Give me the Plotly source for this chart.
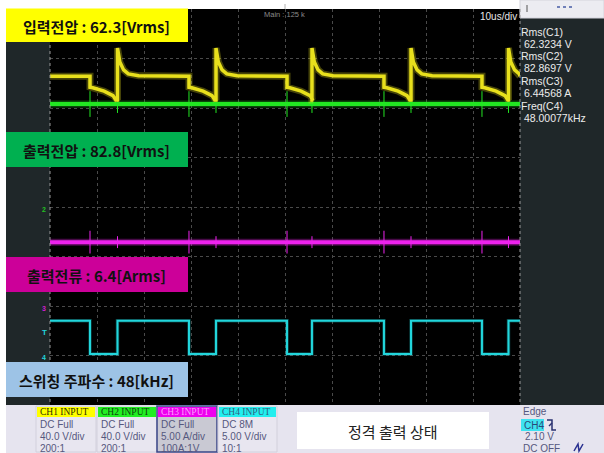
import plotly.graph_objects as go

W, H = 604, 453

# ---- acquisition data (time in us, 10 us/div; amplitude in screen divisions) ----
fall_us = [8.51, 29.57, 50.43, 71.06, 91.91]      # CH4 gate falling edges
rise_us = [14.36, 35.32, 55.74, 76.81, 97.55]     # CH4 gate rising edges

ch1_high = 2.64
ch1_sag_dt = [0.0, 0.6, 3.0, 4.9, 5.5]            # CH1 shape after each falling edge
ch1_sag_lv = [2.42, 2.41, 2.34, 2.25, 2.16]
ch1_ring_dt = [0.0, 0.5, 1.3, 2.3, 4.5]           # CH1 ringing after each rising edge
ch1_ring_lv = [3.21, 2.93, 2.77, 2.69, 2.65]

ch2_level = 2.08
ch2_spike_fall = 0.26
ch2_spike_rise = 0.18
ch3_level = -0.71
ch3_spike_fall = 0.23
ch3_spike_rise = 0.12
ch4_high = -2.30
ch4_low = -2.97

T_END = 100.0

label_texts = ["입력전압 : 62.3[Vrms]", "출력전압 : 82.8[Vrms]",
               "출력전류 : 6.4[Arms]", "스위칭 주파수 : 48[kHz]"]
meas_names = ["Rms(C1)", "Rms(C2)", "Rms(C3)", "Freq(C4)"]
meas_values = [" 62.3234 V", " 82.8697 V", " 6.44568 A", " 48.00077kHz"]
ch_headers = ["CH1 INPUT", "CH2 INPUT", "CH3 INPUT", "CH4 INPUT"]
ch_coupling = ["DC Full", "DC Full", "DC Full", "DC 8M"]
ch_scale = ["40.0 V/div", "40.0 V/div", "5.00 A/div", "5.00 V/div"]
ch_probe = ["200:1", "200:1", "100A:1V", "10:1"]
status_text = "정격 출력 상태"


def build_ch1():
    x, y = [0.0], [ch1_high]
    for f, r in zip(fall_us, rise_us):
        x += [f]; y += [ch1_high]
        for dt, lv in zip(ch1_sag_dt, ch1_sag_lv):
            x.append(f + dt); y.append(lv)
        x.append(r); y.append(ch1_sag_lv[-1])
        for dt, lv in zip(ch1_ring_dt, ch1_ring_lv):
            if r + dt <= T_END:
                x.append(r + dt); y.append(lv)
    x.append(T_END); y.append(ch1_high)
    return x, y


def build_spikes(level, s_fall, s_rise):
    events = sorted([(t, s_fall) for t in fall_us] + [(t, s_rise) for t in rise_us])
    x, y = [], []
    for t, s in events:
        x += [t, t, None]
        y += [level + s, level - s, None]
    return x, y


def build_ch4():
    x, y = [0.0], [ch4_high]
    for f, r in zip(fall_us, rise_us):
        x += [f, f, r, r]
        y += [ch4_high, ch4_low, ch4_low, ch4_high]
    x.append(T_END); y.append(ch4_high)
    return x, y


fig = go.Figure()


def add_wave(xy, color, width, glow, glow_op=0.3):
    x, y = xy
    fig.add_trace(go.Scatter(x=x, y=y, mode="lines", hoverinfo="skip",
                             line=dict(color=color, width=glow), opacity=glow_op))
    fig.add_trace(go.Scatter(x=x, y=y, mode="lines", hoverinfo="skip",
                             line=dict(color=color, width=width)))


def add_thin(xy, color):
    x, y = xy
    fig.add_trace(go.Scatter(x=x, y=y, mode="lines", hoverinfo="skip",
                             connectgaps=False, line=dict(color=color, width=1)))


add_wave(([0.0, T_END], [ch2_level, ch2_level]), "#22e622", 4, 7)
add_thin(build_spikes(ch2_level, ch2_spike_fall, ch2_spike_rise), "#22e622")
add_wave(build_ch1(), "#e8e01c", 3.5, 7, 0.3)
add_wave(([0.0, T_END], [ch3_level, ch3_level]), "#ee22ee", 4, 7)
add_thin(build_spikes(ch3_level, ch3_spike_fall, ch3_spike_rise), "#ee22ee")
add_wave(build_ch4(), "#22d6dc", 2, 3.5)


def px(v):
    return v / W


def py(v):
    return 1 - v / H


shapes = []
annotations = []


def rect(x0, y0, x1, y1, fill, line_color=None, lw=0, layer="above"):
    shapes.append(dict(type="rect", xref="paper", yref="paper",
                       x0=px(x0), x1=px(x1), y0=py(y1), y1=py(y0),
                       fillcolor=fill, layer=layer,
                       line=dict(color=line_color or fill, width=lw)))


def seg(x0, y0, x1, y1, color, lw=1, dash="solid"):
    shapes.append(dict(type="line", xref="paper", yref="paper",
                       x0=px(x0), x1=px(x1), y0=py(y0), y1=py(y1),
                       line=dict(color=color, width=lw, dash=dash), layer="above"))


def text(x, y, s, size, color, family="Liberation Sans", xanchor="left", bold=False):
    annotations.append(dict(xref="paper", yref="paper", x=px(x), y=py(y),
                            text=f"<b>{s}</b>" if bold else s, showarrow=False,
                            xanchor=xanchor, yanchor="middle",
                            font=dict(size=size, color=color, family=family)))


# side panels
rect(6, 9, 50, 405, "#1f2729")
rect(520, 18, 604, 405, "#1f2729")
rect(520, 0, 604, 18, "#ececf1", "#d4d4dc", 1)
rect(6, 405, 604, 453, "#e6e4ef")

# plot borders (dotted)
seg(50, 9, 50, 405, "#9a9a9a", 1, "dot")
seg(520, 9, 520, 405, "#9a9a9a", 1, "dot")

# small top markers
seg(285, 4, 285, 9, "#b0b0b0", 1)
seg(527, 5, 527, 12, "#555", 1)
seg(557, 7, 573, 7, "#7080b8", 2, "dot")

text(262, 15, "Main : 125 k", 7.5, "#8a8a8a")
text(519, 17, "10us/div", 10, "#e8e8e8", xanchor="right")

# channel markers on the left strip
text(44, 210, "2", 7, "#22c022", xanchor="center", bold=True)
text(44, 308, "3", 7, "#d020d0", xanchor="center", bold=True)
text(44, 332, "T", 8, "#22d6dc", xanchor="center", bold=True)
text(44, 357, "4", 7, "#22d6dc", xanchor="center", bold=True)

# annotation boxes
box_y = [(8.5, 42), (132, 167), (257, 292), (362, 397)]
box_fill = ["#ffff00", "#00b050", "#cc0099", "#9dc3e6"]
for (y0, y1), fill, s in zip(box_y, box_fill, label_texts):
    rect(6, y0, 188, y1, fill)
    text(97, (y0 + y1) / 2 + 1, s, 15, "#111111", "Noto Sans CJK KR",
         xanchor="center", bold=True)

# measurement readouts
meas_y = [32, 56, 81, 106]
for yy, name, val in zip(meas_y, meas_names, meas_values):
    text(519, yy, name, 10.5, "#ececec")
    text(519, yy + 12, val, 10.5, "#ececec")

# channel setting boxes
ch_x = [(36, 96), (97, 157), (157, 217), (218, 277)]
hdr_fill = ["#ffff00", "#22ee22", "#ee00ee", "#22eeee"]
hdr_font = ["#303000", "#104010", "#ff9cff", "#306080"]
for i, (x0, x1) in enumerate(ch_x):
    if i == 2:
        rect(x0, 406, x1, 452, "#c9c9d3", "#3a4588", 1.5)
    else:
        rect(x0, 406, x1, 452, "#e8e6f0", "#d2d0dc", 1)
    rect(x0 + 1, 407, x1 - 1, 417, hdr_fill[i])
    text(x0 + 2, 412, ch_headers[i], 9.5, hdr_font[i], "Liberation Serif")
    text(x0 + 2, 424, ch_coupling[i], 10, "#56587e")
    text(x0 + 2, 436, ch_scale[i], 10, "#56587e")
    text(x0 + 2, 448, ch_probe[i], 10, "#56587e")

# status box
rect(297, 412, 489, 449, "#ffffff")
text(393, 431, status_text, 15, "#222222", "Noto Sans CJK KR", xanchor="center")

# trigger settings
text(521, 411, "Edge", 10, "#56587e")
rect(521, 419, 544, 431, "#3fe2f0")
text(522, 425, "CH4", 10, "#2a4a7a")
shapes.append(dict(type="path", xref="paper", yref="paper", layer="above",
                   path=f"M {px(547)},{py(420)} L {px(552)},{py(420)} L {px(552)},{py(430)} L {px(556)},{py(430)}",
                   line=dict(color="#2a3070", width=1.5)))
seg(549, 426, 552, 423, "#2a3070", 1.5)
text(523, 436, "2.10 V", 10, "#56587e")
text(521, 448, "DC OFF", 10, "#56587e")
shapes.append(dict(type="path", xref="paper", yref="paper", layer="above",
                   path=f"M {px(574)},{py(451)} L {px(578)},{py(444)} L {px(579)},{py(451)} L {px(583)},{py(444)}",
                   line=dict(color="#2a3090", width=1.5)))

fig.update_layout(
    width=W, height=H,
    margin=dict(l=0, r=0, t=0, b=0),
    paper_bgcolor="#ffffff",
    plot_bgcolor="#000000",
    showlegend=False,
    shapes=shapes,
    annotations=annotations,
    xaxis=dict(domain=[px(50), px(520)], range=[0, T_END], dtick=10,
               showgrid=True, gridcolor="#4a4a4a", griddash="dot", gridwidth=1,
               zeroline=False, showticklabels=False, ticks="", fixedrange=True),
    yaxis=dict(domain=[py(405), py(9)], range=[-4, 4], dtick=1,
               showgrid=True, gridcolor="#4a4a4a", griddash="dot", gridwidth=1,
               zeroline=False, showticklabels=False, ticks="", fixedrange=True),
)

fig.write_html("out.html")
